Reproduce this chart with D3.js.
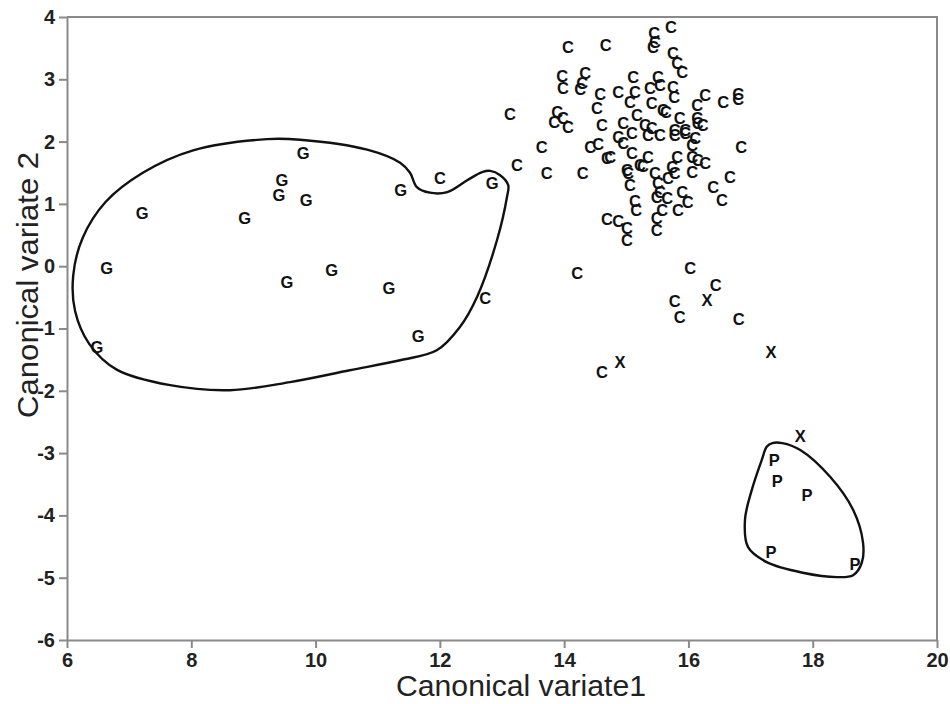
<!DOCTYPE html>
<html>
<head>
<meta charset="utf-8">
<script src="https://cdn.jsdelivr.net/npm/d3@7"></script>
<style>
  body { margin: 0; background: #fff; }
  svg { display: block; font-family: "Liberation Sans", Arial, sans-serif; }
</style>
</head>
<body>
<div id="chart"></div>
<script>
// group letters: G, C, X, P  (canonical variate 1, canonical variate 2)
const gPoints = [
  [9.80, 1.82], [9.46, 1.38], [9.41, 1.14], [9.85, 1.06], [7.21, 0.85],
  [8.86, 0.77], [11.37, 1.22], [12.84, 1.34], [6.64, -0.03], [10.26, -0.06],
  [9.54, -0.25], [11.18, -0.35], [11.65, -1.12], [6.48, -1.30]
];

const cPoints = [
  [15.72, 3.84], [15.45, 3.74], [15.46, 3.60], [15.43, 3.52], [14.06, 3.52],
  [14.67, 3.55], [15.75, 3.42], [15.82, 3.26], [15.90, 3.12], [13.97, 3.05],
  [13.98, 2.86], [14.34, 3.10], [14.29, 2.94], [14.26, 2.84], [14.58, 2.76],
  [14.87, 2.80], [15.11, 3.04], [15.14, 2.80], [15.06, 2.64], [15.51, 3.04],
  [15.38, 2.86], [15.54, 2.91], [15.75, 2.88], [15.77, 2.72], [15.41, 2.62],
  [15.59, 2.51], [15.64, 2.48], [16.27, 2.75], [16.14, 2.59], [16.56, 2.64],
  [16.80, 2.76], [16.80, 2.68], [15.17, 2.43], [15.30, 2.27], [15.41, 2.22],
  [15.86, 2.38], [16.14, 2.38], [16.15, 2.30], [16.23, 2.27], [15.78, 2.19],
  [15.95, 2.19], [13.13, 2.44], [13.89, 2.48], [13.84, 2.31], [13.98, 2.38],
  [14.06, 2.23], [14.53, 2.54], [14.61, 2.27], [14.95, 2.30], [13.64, 1.91],
  [13.24, 1.62], [13.72, 1.50], [14.30, 1.50], [14.42, 1.91], [14.55, 1.96],
  [14.69, 1.74], [14.74, 1.75], [14.87, 2.07], [15.09, 2.14], [15.09, 1.82],
  [15.01, 1.54], [15.03, 1.50], [15.06, 1.30], [15.14, 1.05], [15.16, 0.90],
  [14.69, 0.76], [14.87, 0.73], [15.01, 0.61], [15.01, 0.42], [16.85, 1.91],
  [16.67, 1.43], [16.40, 1.27], [16.54, 1.06], [15.82, 1.75], [15.35, 1.75],
  [15.22, 1.62], [15.27, 1.61], [16.06, 1.95], [16.06, 1.75], [16.15, 1.70],
  [16.27, 1.66], [16.06, 1.51], [15.46, 1.50], [15.74, 1.59], [15.78, 1.50],
  [15.67, 1.42], [15.51, 1.34], [15.54, 1.19], [15.49, 1.11], [15.66, 1.09],
  [15.90, 1.19], [15.99, 1.03], [15.58, 0.90], [15.49, 0.77], [15.49, 0.58],
  [15.83, 0.90], [15.35, 2.11], [15.54, 2.11], [15.78, 2.11], [15.95, 2.14],
  [16.11, 2.06], [14.95, 1.98], [14.21, -0.11], [16.03, -0.03], [16.44, -0.30],
  [15.78, -0.56], [15.86, -0.82], [16.81, -0.85], [14.61, -1.70], [12.00, 1.42],
  [12.73, -0.51]
];

const xPoints = [
  [14.90, -1.54], [16.30, -0.54], [17.33, -1.38], [17.80, -2.72]
];

const pPoints = [
  [17.38, -3.11], [17.43, -3.45], [17.91, -3.67], [17.33, -4.59], [18.68, -4.78]
];

// hand drawn envelopes round the G and P groups
const gHull = [
  [9.22, 2.04], [9.75, 2.03], [10.83, 1.87], [11.36, 1.66], [11.52, 1.50],
  [11.63, 1.27], [11.84, 1.18], [12.12, 1.19], [12.44, 1.38], [12.68, 1.51],
  [12.81, 1.53], [12.97, 1.46], [13.10, 1.30], [13.08, 1.11], [12.92, 0.42],
  [12.60, -0.49], [12.32, -0.98], [11.95, -1.35], [11.36, -1.51], [10.55, -1.67],
  [9.59, -1.86], [8.62, -1.99], [7.66, -1.91], [6.80, -1.66], [6.36, -1.25],
  [6.13, -0.72], [6.10, -0.15], [6.25, 0.45], [6.62, 1.03], [7.22, 1.50],
  [8.03, 1.86]
];

const pHull = [
  [17.35, -2.84], [17.51, -2.84], [17.80, -2.95], [18.28, -3.38], [18.65, -3.91],
  [18.81, -4.44], [18.79, -4.76], [18.65, -4.96], [18.39, -4.99], [17.84, -4.92],
  [17.26, -4.75], [16.96, -4.51], [16.91, -4.07], [17.02, -3.59], [17.18, -3.11],
  [17.26, -2.90]
];

const xTicks = [6, 8, 10, 12, 14, 16, 18, 20];
const yTicks = [4, 3, 2, 1, 0, -1, -2, -3, -4, -5, -6];

const width = 950, height = 704;
const margin = { top: 17, right: 13, bottom: 64, left: 67 };

const svg = d3.select("#chart").append("svg")
  .attr("width", width)
  .attr("height", height);

const x = d3.scaleLinear().domain([6, 20]).range([margin.left, width - margin.right]);
const y = d3.scaleLinear().domain([-6, 4]).range([height - margin.bottom, margin.top]);

const axisColor = "#8a8a8a";

// frame (top and right)
svg.append("path")
  .attr("d", `M${x(6)},${y(4)}H${x(20)}V${y(-6)}`)
  .attr("fill", "none")
  .attr("stroke", axisColor)
  .attr("stroke-width", 2);

const xAxis = svg.append("g")
  .attr("transform", `translate(0,${y(-6)})`)
  .call(d3.axisBottom(x).tickValues(xTicks).tickSize(8).tickSizeOuter(0).tickPadding(5));

const yAxis = svg.append("g")
  .attr("transform", `translate(${x(6)},0)`)
  .call(d3.axisLeft(y).tickValues(yTicks).tickSize(8).tickSizeOuter(0).tickPadding(4)
    .tickFormat(d3.format("d")));

[xAxis, yAxis].forEach(ax => {
  ax.select(".domain").attr("stroke", axisColor).attr("stroke-width", 2);
  ax.selectAll(".tick line").attr("stroke", axisColor).attr("stroke-width", 2);
  ax.selectAll(".tick text")
    .attr("fill", "#222")
    .attr("font-family", "'Liberation Sans', Arial, sans-serif")
    .attr("font-weight", "bold")
    .attr("font-size", 20);
});
yAxis.selectAll(".tick text").text(d => d < 0 ? "-" + Math.abs(d) : d);

// axis titles
svg.append("text")
  .attr("x", 521)
  .attr("y", 696)
  .attr("text-anchor", "middle")
  .attr("font-size", 30)
  .attr("fill", "#222")
  .attr("textLength", 250)
  .attr("lengthAdjust", "spacingAndGlyphs")
  .text("Canonical variate1");

svg.append("text")
  .attr("transform", `translate(38,${y(-0.3)}) rotate(-90)`)
  .attr("text-anchor", "middle")
  .attr("font-size", 30)
  .attr("fill", "#222")
  .attr("textLength", 266)
  .attr("lengthAdjust", "spacingAndGlyphs")
  .text("Canonical variate 2");

// envelopes
const hullLine = d3.line()
  .x(d => x(d[0]))
  .y(d => y(d[1]))
  .curve(d3.curveCatmullRomClosed.alpha(0.5));

svg.selectAll(".hull")
  .data([gHull, pHull])
  .join("path")
  .attr("class", "hull")
  .attr("d", hullLine)
  .attr("fill", "none")
  .attr("stroke", "#111")
  .attr("stroke-width", 2.4);

// letters
const groups = [
  { label: "G", pts: gPoints },
  { label: "C", pts: cPoints },
  { label: "X", pts: xPoints },
  { label: "P", pts: pPoints }
];

groups.forEach(g => {
  svg.append("g").selectAll("text")
    .data(g.pts)
    .join("text")
    .attr("x", d => x(d[0]))
    .attr("y", d => y(d[1]))
    .attr("text-anchor", "middle")
    .attr("dominant-baseline", "central")
    .attr("font-size", 16.5)
    .attr("font-weight", "bold")
    .attr("fill", "#111")
    .text(g.label);
});
</script>
</body>
</html>
